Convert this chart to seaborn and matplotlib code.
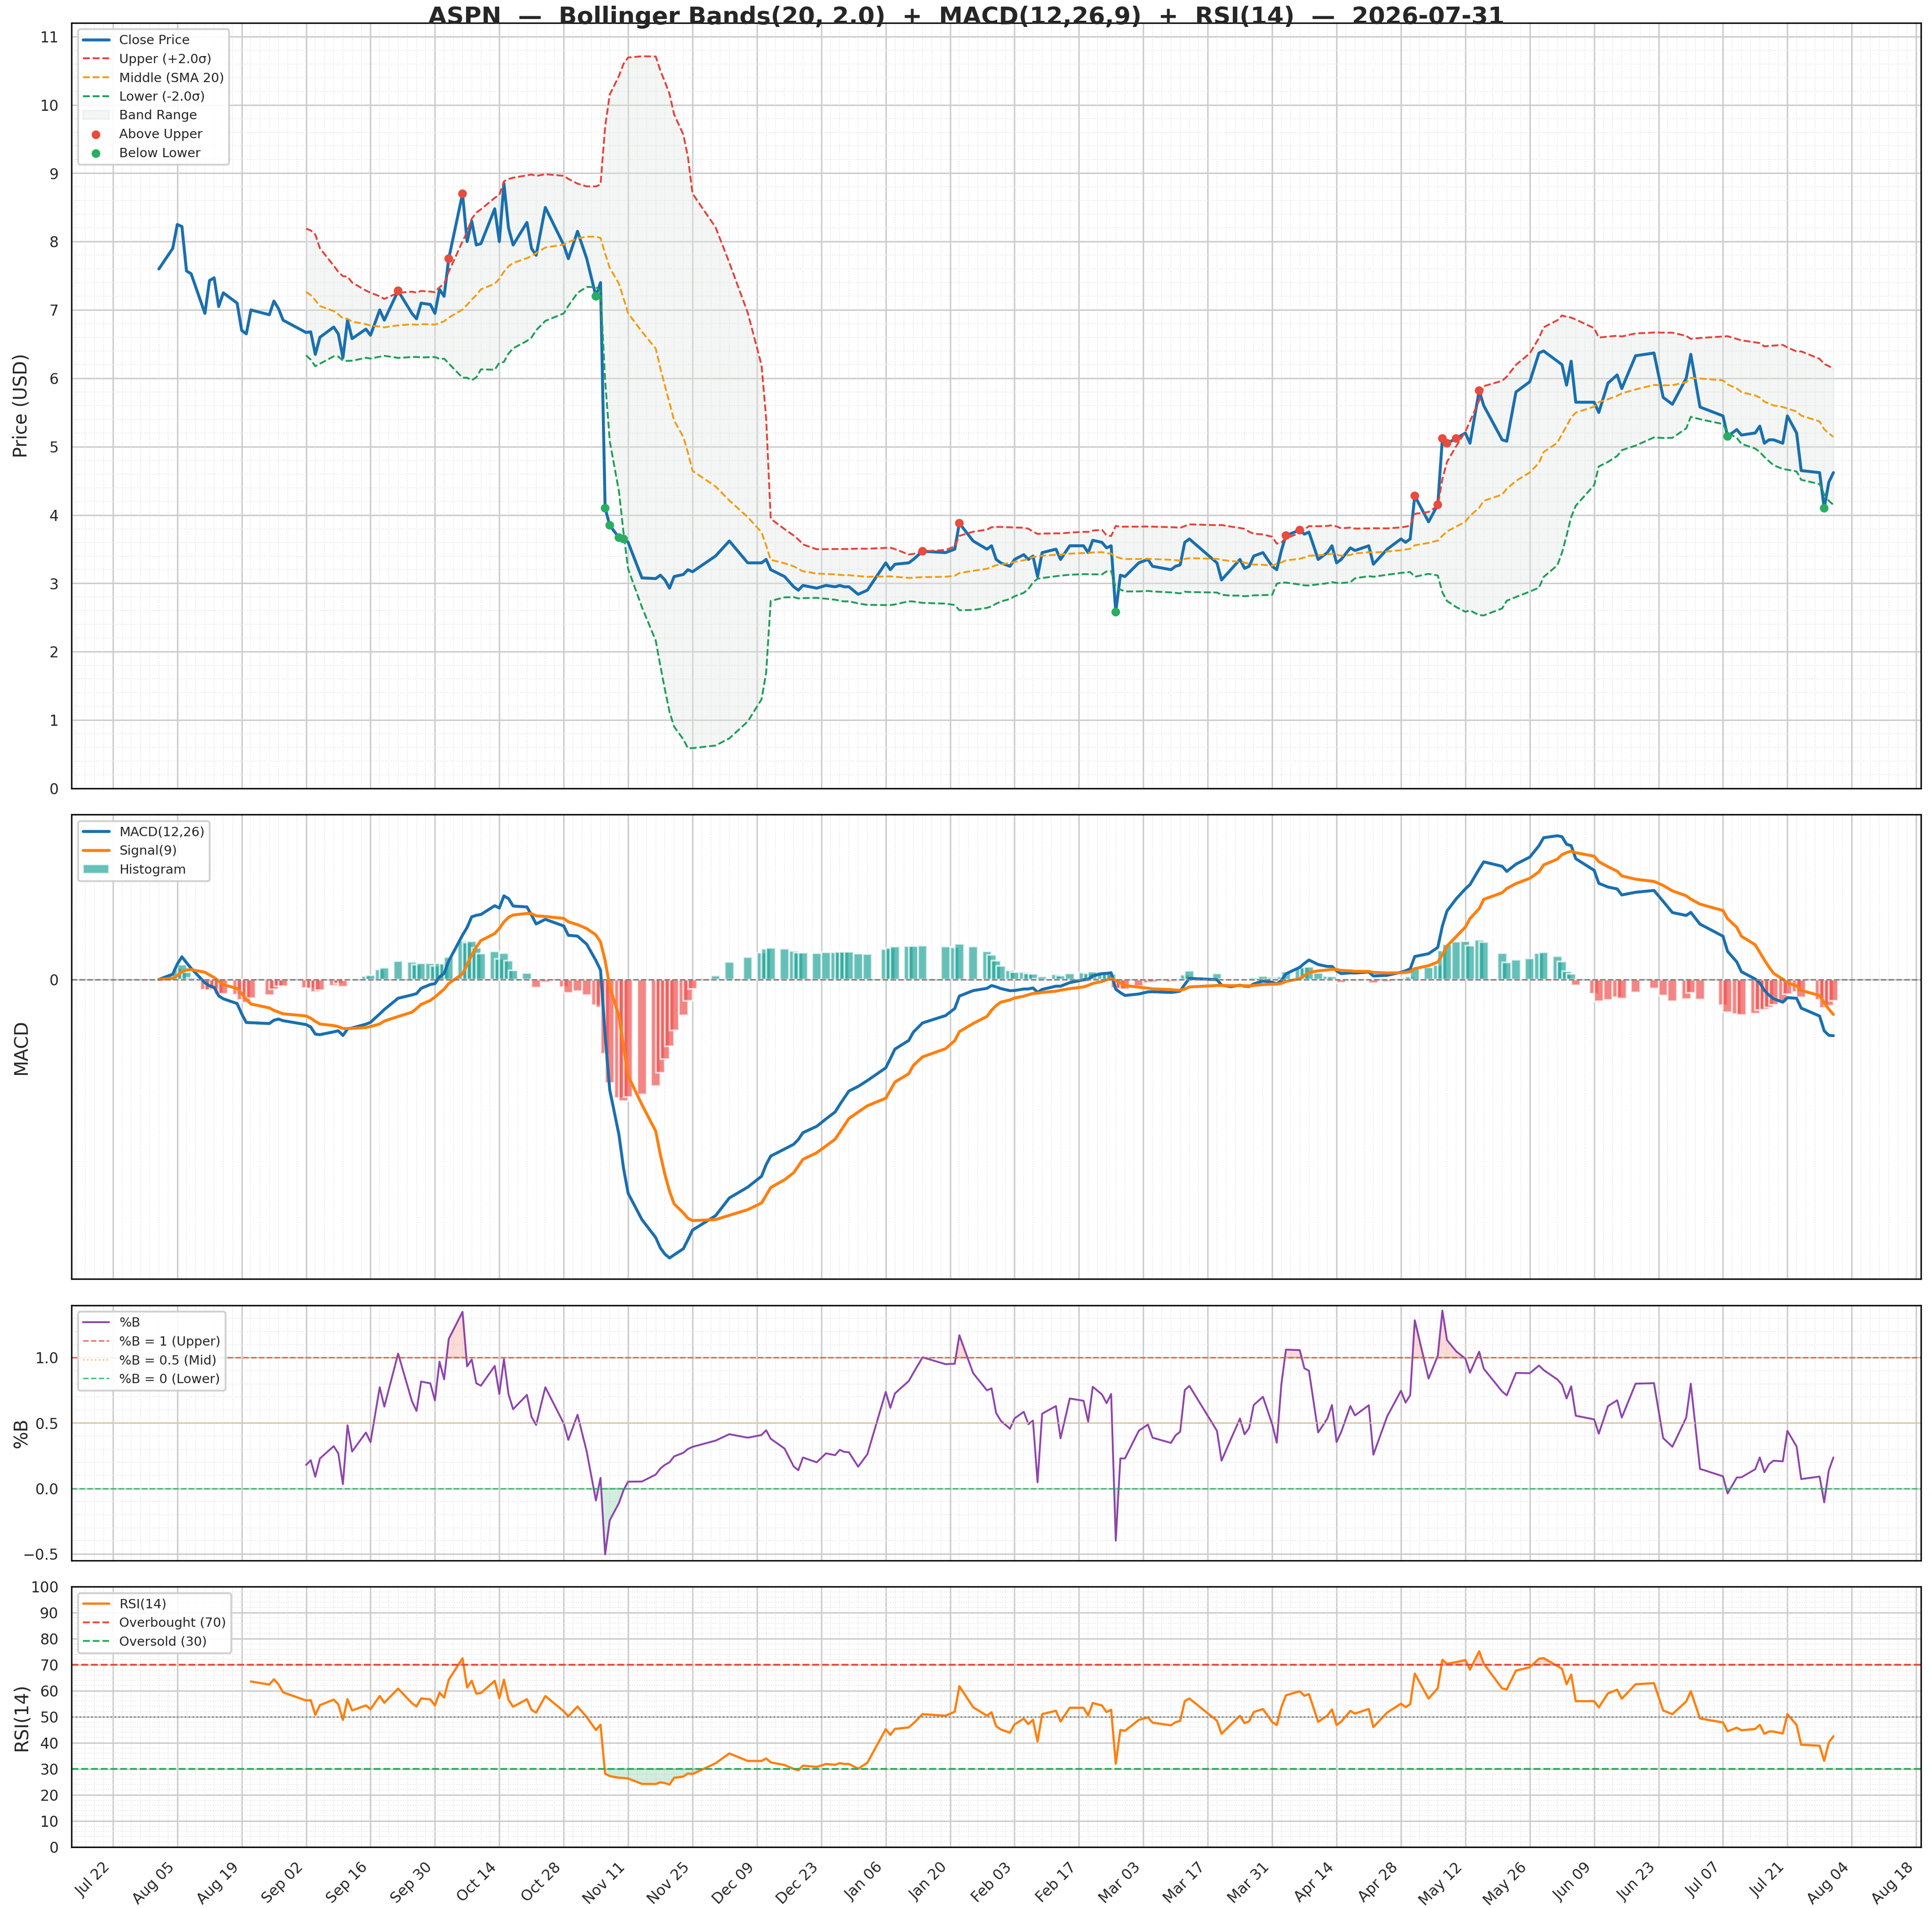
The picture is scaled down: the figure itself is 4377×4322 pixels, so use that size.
import numpy as np
import pandas as pd
import matplotlib
matplotlib.use("Agg")
import matplotlib.pyplot as plt
import matplotlib.dates as mdates
from matplotlib.ticker import MultipleLocator
import seaborn as sns

sns.set_style("white")
plt.rcParams['font.family'] = ['DejaVu Sans']

TICKER = "ASPN"
BASE_DATE = "2025-07-22"
day_offsets = [10,13,14,15,16,17,20,21,22,23,24,27,28,29,30,34,35,36,37,42,43,44,45,48,49,50,51,52,55,56,58,59,62,65,66,67,69,70,71,72,73,76,77,78,79,80,83,84,85,86,87,90,91,92,94,98,99,101,103,105,106,107,108,110,111,112,115,118,119,120,121,122,124,125,126,131,134,138,141,142,143,146,148,149,150,153,155,157,158,159,160,162,164,168,169,170,173,174,176,181,183,184,187,190,191,192,193,195,196,198,199,200,201,202,205,206,208,211,212,213,215,216,217,218,219,220,223,225,226,230,231,232,233,234,240,241,243,245,246,247,248,250,252,253,254,255,258,259,260,262,264,265,266,267,269,270,273,274,277,280,281,282,283,286,288,289,290,292,294,295,297,298,302,303,305,308,310,311,314,315,316,317,318,322,323,325,327,328,331,335,337,339,342,343,345,350,351,353,354,357,358,359,360,361,363,364,366,367,371,372,373,374]
close = [7.6,7.9,8.25,8.22,7.57,7.53,6.95,7.43,7.47,7.05,7.25,7.1,6.7,6.65,7.0,6.93,7.13,7.02,6.85,6.67,6.68,6.35,6.6,6.75,6.65,6.3,6.85,6.58,6.72,6.63,7.0,6.85,7.28,6.95,6.87,7.1,7.08,6.95,7.3,7.2,7.75,8.7,8.0,8.3,7.95,7.97,8.48,8.0,8.85,8.2,7.95,8.28,7.9,7.8,8.5,7.95,7.75,8.15,7.75,7.2,7.4,4.1,3.85,3.67,3.65,3.6,3.08,3.07,3.12,3.05,2.93,3.1,3.13,3.2,3.17,3.4,3.62,3.3,3.3,3.35,3.2,3.1,2.95,2.9,2.97,2.93,2.97,2.95,2.97,2.95,2.95,2.84,2.9,3.3,3.2,3.28,3.3,3.35,3.47,3.45,3.5,3.88,3.62,3.5,3.55,3.35,3.3,3.25,3.35,3.42,3.35,3.4,3.1,3.45,3.5,3.35,3.55,3.55,3.45,3.63,3.6,3.52,3.55,2.58,3.12,3.1,3.3,3.35,3.25,3.2,3.25,3.27,3.6,3.65,3.3,3.05,3.2,3.35,3.22,3.25,3.4,3.45,3.25,3.2,3.48,3.7,3.78,3.72,3.75,3.35,3.45,3.55,3.3,3.35,3.52,3.48,3.55,3.28,3.5,3.65,3.6,3.65,4.28,3.9,4.15,5.12,5.05,5.12,5.2,5.05,5.82,5.6,5.1,5.08,5.8,5.95,6.37,6.4,6.25,6.2,5.9,6.25,5.65,5.65,5.5,5.93,6.05,5.85,6.33,6.37,5.72,5.62,6.0,6.35,5.58,5.45,5.15,5.25,5.17,5.2,5.3,5.05,5.1,5.1,5.05,5.45,5.2,4.65,4.62,4.1,4.48,4.62]

dates = pd.Timestamp(BASE_DATE) + pd.to_timedelta(day_offsets, unit="D")
df = pd.DataFrame({"date": dates, "close": close})
s = df["close"]
mid = s.rolling(20).mean()
sd = s.rolling(20).std(ddof=0)
df["upper"] = mid + 2 * sd
df["mid"] = mid
df["lower"] = mid - 2 * sd
ema12 = s.ewm(span=12, adjust=False).mean()
ema26 = s.ewm(span=26, adjust=False).mean()
df["macd"] = ema12 - ema26
df["signal"] = df["macd"].ewm(span=9, adjust=False).mean()
df["hist"] = df["macd"] - df["signal"]
df["pctb"] = (s - df["lower"]) / (df["upper"] - df["lower"])
d = s.diff()
up = d.clip(lower=0).ewm(alpha=1/14, adjust=False, min_periods=14).mean()
dn = (-d.clip(upper=0)).ewm(alpha=1/14, adjust=False, min_periods=14).mean()
df["rsi"] = 100 - 100 / (1 + up / dn)

fig, axes = plt.subplots(4, 1, figsize=(14.593, 14.407), dpi=300, sharex=True,
                         gridspec_kw={"height_ratios": [3.0, 1.82, 1.0, 1.02], "hspace": 0.06})
fig.subplots_adjust(left=0.037, right=0.994, top=0.988, bottom=0.032)
ax1, ax2, ax3, ax4 = axes

sns.lineplot(data=df, x="date", y="close", ax=ax1, color="#1a6faf", lw=1.6, label="Close Price")
sns.lineplot(data=df, x="date", y="upper", ax=ax1, color="#e8413a", lw=1.0, ls="--", label="Upper (+2.0σ)")
sns.lineplot(data=df, x="date", y="mid", ax=ax1, color="#f39c12", lw=1.0, ls="--", label="Middle (SMA 20)")
sns.lineplot(data=df, x="date", y="lower", ax=ax1, color="#1e9e5a", lw=1.0, ls="--", label="Lower (-2.0σ)")
ok = df["upper"].notna()
ax1.fill_between(df["date"][ok], df["lower"][ok], df["upper"][ok], color="#dfe6e0", alpha=0.35, label="Band Range")
above = df[df["close"] > df["upper"]]
below = df[df["close"] < df["lower"]]
sns.scatterplot(data=above, x="date", y="close", ax=ax1, color="#e74c3c", s=22, zorder=5, edgecolor="none", label="Above Upper")
sns.scatterplot(data=below, x="date", y="close", ax=ax1, color="#27ae60", s=22, zorder=5, edgecolor="none", label="Below Lower")
ax1.set_ylim(0, 11.2)
ax1.yaxis.set_major_locator(MultipleLocator(1))
ax1.set_ylabel("Price (USD)", fontsize=10)
ax1.legend(loc="upper left", fontsize=7, framealpha=0.9)

colors = np.where(df["hist"] >= 0, "#26a69a", "#ef5350")
ax2.bar(df["date"], df["hist"], width=2.0, color=colors, alpha=0.7, label="Histogram")
sns.lineplot(data=df, x="date", y="macd", ax=ax2, color="#1a6faf", lw=1.6, label="MACD(12,26)")
sns.lineplot(data=df, x="date", y="signal", ax=ax2, color="#ff7f0e", lw=1.6, label="Signal(9)")
ax2.axhline(0, color="gray", ls="--", lw=0.8)
ax2.set_yticks([0])
ax2.set_ylabel("MACD", fontsize=10)
h, l = ax2.get_legend_handles_labels()
order = [l.index("MACD(12,26)"), l.index("Signal(9)"), l.index("Histogram")]
ax2.legend([h[i] for i in order], [l[i] for i in order], loc="upper left", fontsize=7, framealpha=0.9)

sns.lineplot(data=df, x="date", y="pctb", ax=ax3, color="#8e44ad", lw=1.0, label="%B")
ax3.axhline(1, color="#e74c3c", ls="--", lw=0.8, alpha=0.8, label="%B = 1 (Upper)")
ax3.axhline(0.5, color="#f5c16c", ls=":", lw=0.8, label="%B = 0.5 (Mid)")
ax3.axhline(0, color="#27ae60", ls="--", lw=0.8, alpha=0.8, label="%B = 0 (Lower)")
pb = df["pctb"]
ax3.fill_between(df["date"], pb, 1, where=pb > 1, color="#e74c3c", alpha=0.2, interpolate=True)
ax3.fill_between(df["date"], pb, 0, where=pb < 0, color="#27ae60", alpha=0.2, interpolate=True)
ax3.set_ylim(-0.55, 1.4)
ax3.set_yticks([-0.5, 0.0, 0.5, 1.0])
ax3.set_ylabel("%B", fontsize=10)
ax3.legend(loc="upper left", fontsize=7, framealpha=0.9)

sns.lineplot(data=df, x="date", y="rsi", ax=ax4, color="#ff7f0e", lw=1.2, label="RSI(14)")
ax4.axhline(70, color="#e74c3c", ls="--", lw=1.0, label="Overbought (70)")
ax4.axhline(30, color="#27ae60", ls="--", lw=1.0, label="Oversold (30)")
ax4.axhline(50, color="gray", ls=":", lw=0.8)
r = df["rsi"]
ax4.fill_between(df["date"], r, 70, where=r > 70, color="#e74c3c", alpha=0.2, interpolate=True)
ax4.fill_between(df["date"], r, 30, where=r < 30, color="#27ae60", alpha=0.2, interpolate=True)
ax4.set_ylim(0, 100)
ax4.yaxis.set_major_locator(MultipleLocator(10))
ax4.set_ylabel("RSI(14)", fontsize=10)
ax4.legend(loc="upper left", fontsize=7, framealpha=0.9)

for ax in axes:
    ax.set_xlabel("")
    ax.grid(True, which="major", color="#cccccc", lw=0.8)
    ax.minorticks_on()
    ax.grid(True, which="minor", color="#e6e6e6", lw=0.5, ls=":")
    ax.tick_params(labelsize=8)
    ax.yaxis.set_label_coords(-0.022, 0.5)
    for sp in ax.spines.values():
        sp.set_color("black")
ax4.set_xlim(pd.Timestamp("2025-07-13"), pd.Timestamp("2026-08-19"))
ax4.xaxis.set_major_locator(mdates.WeekdayLocator(byweekday=mdates.TU, interval=2))
ax4.xaxis.set_minor_locator(mdates.DayLocator(interval=2))
ax4.xaxis.set_major_formatter(mdates.DateFormatter("%b %d"))
plt.setp(ax4.get_xticklabels(), rotation=45, ha="right")

fig.suptitle(f"{TICKER}  —  Bollinger Bands(20, 2.0)  +  MACD(12,26,9)  +  RSI(14)  —  2026-07-31",
             fontsize=13, fontweight="bold", y=0.997)
fig.savefig("out.png", dpi=300)
